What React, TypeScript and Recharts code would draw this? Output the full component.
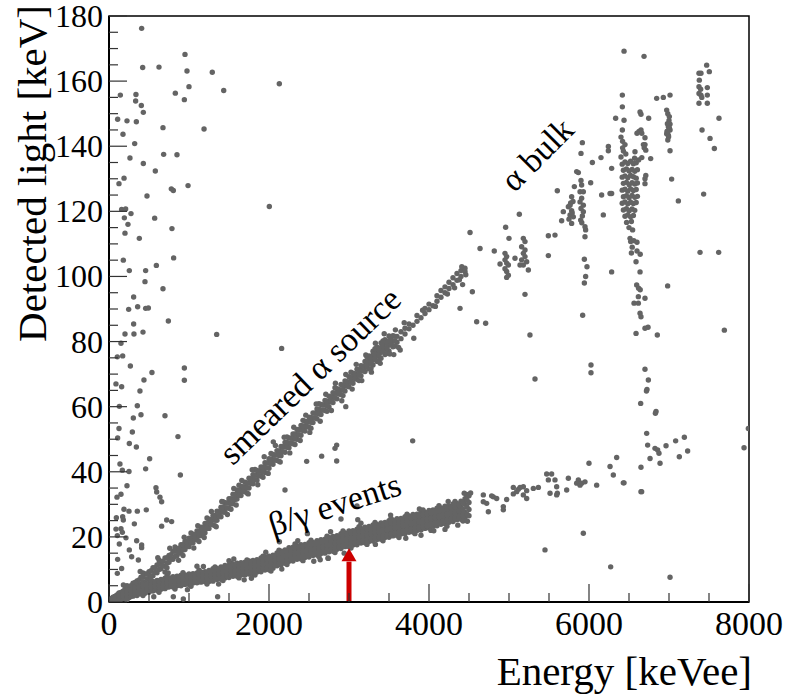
import React from "react";
import { ScatterChart, Scatter, XAxis, YAxis, ReferenceArea, ReferenceLine, ReferenceDot } from "recharts";

const FONT = "Liberation Serif";
const DOT = "#646464";

const W = 787;
const H = 696;
const M_TOP = 16;
const M_RIGHT = 38;
const Y_AXIS_W = 109;
const X_AXIS_H = 94;
const X_DOMAIN = [0, 8000];
const Y_DOMAIN = [0, 180];

const xTicks = [0, 500, 1000, 1500, 2000, 2500, 3000, 3500, 4000, 4500, 5000, 5500, 6000, 6500, 7000, 7500, 8000];
const xLabels = [0, 2000, 4000, 6000, 8000];
const yTicks = [0, 5, 10, 15, 20, 25, 30, 35, 40, 45, 50, 55, 60, 65, 70, 75, 80, 85, 90, 95, 100, 105, 110, 115, 120, 125, 130, 135, 140, 145, 150, 155, 160, 165, 170, 175, 180];
const yLabels = [0, 20, 40, 60, 80, 100, 120, 140, 160, 180];

// beta/gamma band: [energy, light values...]
const bandRows: number[][] = [
  [25, 0.2, 0.6, 1.0], [50, 0.3, 1.0, 1.5], [100, 0.5, 1.4, 2.0], [150, 0.8, 1.6, 2.6], [200, 1.0, 2.2, 3.1],
  [250, 1.4, 2.4, 3.6], [300, 1.8, 3.0, 4.0], [350, 2.0, 3.4, 4.5], [400, 2.5, 3.6, 5.0], [450, 2.7, 4.2, 5.5],
  [500, 3.0, 4.6, 5.8], [550, 3.4, 4.7, 6.3], [600, 3.6, 5.2, 6.6], [650, 3.9, 5.5, 6.9], [700, 4.1, 5.6, 7.3],
  [750, 4.6, 6.1, 7.4], [800, 4.6, 6.3, 7.8], [850, 5.0, 6.3, 7.9], [900, 5.0, 6.7, 8.2], [950, 5.4, 6.8, 8.3],
  [1000, 5.4, 7.1, 8.6], [1050, 5.8, 7.2, 8.7], [1100, 5.9, 7.5, 8.9], [1150, 6.1, 7.6, 9.2], [1200, 6.2, 7.9, 9.3],
  [1250, 6.3, 7.3, 8.7, 9.7], [1300, 6.4, 7.8, 8.9, 10.2], [1350, 6.9, 8.0, 9.3, 10.3], [1400, 7.0, 8.4, 9.5, 10.8],
  [1450, 7.4, 8.5, 9.8, 11.2], [1500, 7.5, 8.9, 10.2, 11.3], [1550, 7.9, 9.0, 10.5, 11.6], [1600, 7.9, 9.3, 10.6, 11.9],
  [1650, 8.3, 9.4, 10.7, 12.1], [1700, 8.3, 9.7, 11.0, 12.2], [1750, 8.6, 9.8, 11.3, 12.6], [1800, 8.7, 10.1, 11.5, 12.8],
  [1850, 9.2, 10.4, 11.9, 13.0], [1900, 9.3, 10.8, 12.1, 13.5], [1950, 9.8, 11.0, 12.3, 13.8], [2000, 9.9, 11.4, 12.7, 14.1],
  [2050, 10.4, 11.8, 13.3, 14.4], [2100, 11.1, 12.2, 13.7, 15.1], [2150, 11.4, 12.9, 14.1, 15.6], [2200, 11.9, 13.2, 14.8, 16.0],
  [2250, 12.5, 13.8, 15.2, 16.7], [2300, 12.6, 14.1, 15.7, 16.8], [2350, 13.1, 14.3, 15.9, 17.3], [2400, 13.2, 14.8, 16.1, 17.6],
  [2450, 13.7, 15.0, 16.6, 17.7], [2500, 13.8, 15.4, 16.8, 18.2], [2550, 14.3, 15.5, 17.2, 18.3], [2600, 14.4, 16.0, 17.3, 18.8],
  [2650, 14.9, 16.1, 17.8, 19.1], [2700, 15.0, 16.5, 18.0, 19.3], [2750, 15.4, 16.7, 18.4, 19.8], [2800, 15.6, 17.2, 18.6, 20.1],
  [2850, 16.2, 17.4, 19.2, 20.4], [2900, 16.4, 18.0, 19.4, 21.0], [2950, 17.0, 18.3, 20.0, 21.2], [3000, 17.0, 18.7, 20.2, 21.8],
  [3050, 17.5, 18.9, 20.6, 21.9], [3100, 17.6, 19.3, 20.8, 22.4], [3150, 18.1, 19.4, 21.2, 22.6], [3200, 18.2, 19.9, 21.3, 23.0],
  [3250, 18.6, 20.0, 21.8, 23.2], [3300, 18.7, 20.5, 22.0, 23.7], [3350, 19.2, 20.7, 22.4, 23.8], [3400, 19.3, 21.1, 22.6, 24.3],
  [3450, 19.8, 21.2, 23.0, 24.4], [3500, 19.9, 21.6, 23.2, 25.0], [3550, 20.3, 21.8, 23.7, 25.1], [3600, 20.4, 22.2, 23.9, 25.6],
  [3650, 20.9, 22.3, 24.3, 25.7], [3700, 21.0, 22.8, 24.4, 26.2], [3750, 21.4, 22.9, 24.9, 26.4], [3800, 21.5, 23.4, 25.0, 26.9],
  [3850, 22.0, 23.5, 25.5, 27.0], [3900, 22.1, 24.0, 25.6, 27.5], [3950, 22.6, 24.1, 26.1, 27.6], [4000, 22.7, 24.6, 26.2, 28.1],
  [4050, 23.3, 24.8, 26.8, 28.3], [4100, 23.4, 25.3, 26.9, 28.8], [4150, 23.9, 25.4, 27.4, 28.9], [4200, 24.0, 25.9, 27.5, 29.4],
  [4250, 24.5, 26.0, 28.0, 29.5], [4300, 24.7, 26.6, 28.2, 30.1], [4350, 25.3, 26.8, 28.8, 30.3], [4400, 25.4, 27.3, 29.1, 31.0],
  [4450, 25.9, 27.6, 30.0, 31.7], [4500, 26.5, 28.4, 30.6, 32.6],
];

const bandRowsB: number[][] = [
  [75, 0.6, 1.1, 1.7], [125, 0.8, 1.5, 2.2, 2.8], [175, 1.2, 1.9, 2.7], [225, 1.5, 2.4, 3.1, 0.7], [275, 1.8, 2.7, 3.6],
  [325, 2.2, 3.1, 4.0, 4.9], [375, 2.5, 3.5, 4.5], [425, 2.9, 3.9, 5.0, 2.0], [475, 3.2, 4.3, 5.4], [525, 3.5, 4.7, 5.8, 6.8],
  [575, 3.8, 5.0, 6.1], [625, 4.0, 5.3, 6.5, 3.0], [675, 4.4, 5.5, 6.8], [725, 4.6, 5.9, 7.0, 8.0], [775, 4.9, 6.1, 7.3],
  [825, 5.1, 6.3, 7.5, 4.0], [875, 5.3, 6.5, 7.7], [925, 5.5, 6.7, 7.9, 9.0], [975, 5.7, 6.9, 8.1], [1025, 5.9, 7.1, 8.3, 4.8],
  [1075, 6.1, 7.3, 8.5], [1125, 6.3, 7.5, 8.7, 9.8], [1175, 6.5, 7.7, 8.9], [1225, 6.7, 7.9, 9.1, 5.5], [1275, 6.9, 8.1, 9.4],
  [1325, 7.2, 8.5, 9.7, 10.8], [1375, 7.5, 8.7, 10.0], [1425, 7.8, 9.0, 10.3, 6.6], [1475, 8.1, 9.4, 10.6],
  [1525, 8.3, 9.6, 10.9, 12.0], [1575, 8.5, 9.8, 11.1], [1625, 8.7, 10.0, 11.3, 7.4], [1675, 8.9, 10.2, 11.5],
  [1725, 9.0, 10.4, 11.8, 12.9], [1775, 9.3, 10.6, 12.0], [1825, 9.6, 11.0, 12.3, 8.3], [1875, 9.9, 11.2, 12.6],
  [1925, 10.1, 11.6, 12.9, 14.1], [1975, 10.4, 11.8, 13.3], [2025, 10.8, 12.3, 13.7, 9.5], [2075, 11.3, 12.7, 14.2],
  [2125, 11.8, 13.3, 14.7, 15.9], [2175, 12.3, 13.7, 15.2], [2225, 12.7, 14.3, 15.8, 11.5], [2275, 13.1, 14.6, 16.2],
  [2325, 13.4, 15.0, 16.5, 17.8], [2375, 13.7, 15.2, 16.8], [2425, 14.0, 15.6, 17.1, 12.7], [2475, 14.3, 15.8, 17.4],
  [2525, 14.6, 16.2, 17.7, 19.0], [2575, 14.9, 16.4, 18.0], [2625, 15.2, 16.8, 18.3, 13.9], [2675, 15.5, 17.0, 18.6],
  [2725, 15.8, 17.4, 18.9, 20.2], [2775, 16.1, 17.7, 19.3], [2825, 16.5, 18.1, 19.7, 15.2], [2875, 16.9, 18.5, 20.1],
  [2925, 17.3, 18.9, 20.5, 21.8], [2975, 17.7, 19.2, 20.8], [3025, 17.9, 19.6, 21.2, 16.6], [3075, 18.2, 19.8, 21.5],
  [3125, 18.5, 20.2, 21.8, 23.1], [3175, 18.8, 20.4, 22.1], [3225, 19.1, 20.8, 22.4, 17.7], [3275, 19.4, 21.0, 22.7],
  [3325, 19.7, 21.4, 23.0, 24.4], [3375, 20.0, 21.6, 23.3], [3425, 20.3, 22.0, 23.6, 18.8], [3475, 20.5, 22.2, 23.9],
  [3525, 20.8, 22.6, 24.3, 25.7], [3575, 21.1, 22.8, 24.6], [3625, 21.4, 23.2, 24.9, 19.8], [3675, 21.7, 23.4, 25.2],
  [3725, 22.0, 23.8, 25.5, 27.0], [3775, 22.2, 24.0, 25.9], [3825, 22.5, 24.4, 26.2, 21.0], [3875, 22.8, 24.6, 26.5],
  [3925, 23.1, 25.0, 26.8, 28.3], [3975, 23.4, 25.2, 27.1], [4025, 23.8, 25.6, 27.4, 22.0], [4075, 24.1, 26.0, 27.8],
  [4125, 24.4, 26.2, 28.1, 29.6], [4175, 24.7, 26.6, 28.4], [4225, 25.0, 26.8, 28.7, 23.3], [4275, 25.4, 27.2, 29.0],
  [4325, 25.8, 27.6, 29.4, 30.9], [4375, 26.1, 28.0, 29.9], [4425, 26.5, 28.5, 30.5, 24.9], [4475, 27.0, 29.2, 31.3, 32.8],
];

const bandExtra: number[][] = [
  [4470, 33.0], [4520, 33.5], [4480, 24.8], [2130, 18.5], [2480, 21.0], [2900, 25.5], [3100, 29.5], [3110, 25.3],
  [2640, 13.0], [2740, 13.4], [1690, 6.8], [3900, 20.5], [4200, 22.3], [1100, 11.0], [1500, 12.7],
  [330, 6.0], [560, 1.6], [740, 8.9], [980, 3.8], [1180, 10.9], [1370, 5.5], [1560, 13.2], [1780, 7.3], [1960, 15.3],
  [2160, 10.1], [2360, 18.8], [2560, 12.5], [2770, 21.6], [2940, 15.0], [3150, 24.2], [3330, 17.7], [3520, 26.7],
  [3710, 19.6], [3880, 28.6], [4060, 21.9], [4240, 30.9], [4360, 23.6], [4440, 33.4],
];

// smeared alpha source line: [energy, light values...]
const smearRows: number[][] = [
  [50, 0.5, 1.3], [100, 1.0, 2.2], [150, 1.6, 2.9], [200, 2.2, 3.9], [250, 2.9, 4.6], [300, 3.6, 5.8], [350, 4.5, 6.5],
  [400, 5.4, 7.6], [450, 6.1, 8.6], [500, 7.2, 9.3], [550, 8.1, 10.5], [600, 9.0, 11.4], [650, 10.2, 12.2], [700, 11.0, 13.5],
  [750, 12.2, 14.3], [800, 13.1, 15.6], [850, 14.2, 16.3], [900, 15.0, 16.4, 17.6], [950, 16.1, 17.2, 18.6],
  [1000, 17.0, 18.5, 19.6], [1050, 18.2, 19.3, 20.8], [1100, 19.1, 20.6, 21.8], [1150, 20.4, 21.5, 23.0],
  [1200, 21.3, 22.9, 24.1], [1250, 22.6, 24.0, 25.4], [1300, 23.7, 25.3, 26.5], [1350, 25.1, 26.4, 27.9],
  [1400, 26.2, 27.8, 29.1], [1450, 27.6, 29.0, 30.5], [1500, 28.8, 30.4, 31.7], [1550, 30.2, 31.6, 33.1],
  [1600, 31.6, 33.0, 34.4], [1650, 32.7, 34.2, 35.5], [1700, 33.9, 35.2, 36.8], [1750, 35.0, 36.6, 38.0],
  [1800, 36.3, 37.8, 39.1], [1850, 37.4, 38.9, 40.4], [1900, 38.7, 40.2, 41.5], [1950, 39.8, 41.3, 42.8],
  [2000, 41.1, 42.7, 44.0], [2050, 42.3, 43.7, 45.3], [2100, 43.5, 45.2, 46.5], [2150, 44.9, 46.2, 47.8],
  [2200, 46.0, 47.7, 49.0], [2250, 47.4, 48.8, 50.4], [2300, 48.6, 50.3, 51.6], [2350, 50.0, 51.4, 53.0],
  [2400, 51.2, 52.9, 54.2], [2450, 52.5, 53.9, 55.5], [2500, 53.7, 55.4, 56.8], [2550, 55.1, 56.5, 58.1],
  [2600, 56.3, 58.0, 59.3], [2650, 57.6, 59.0, 60.7], [2700, 58.8, 60.5, 61.9], [2750, 60.0, 61.5, 63.2],
  [2800, 61.3, 62.9, 64.3], [2850, 62.4, 64.1, 65.5], [2900, 63.7, 65.1, 66.8], [2950, 64.8, 66.5, 67.9],
  [3000, 66.1, 67.6, 69.2], [3050, 67.2, 68.9, 70.3], [3100, 68.4, 69.8, 71.5], [3150, 69.5, 71.2, 72.6],
  [3200, 70.8, 72.3, 73.9], [3250, 71.6, 73.2, 74.5, 75.6], [3300, 72.8, 74.3, 75.9, 77.0], [3350, 73.9, 75.6, 77.1, 78.3],
  [3400, 74.9, 76.7, 78.2, 79.6], [3450, 76.0, 77.8, 79.5, 80.6], [3500, 77.1, 78.9, 80.3, 81.7], [3550, 78.4, 80.1, 81.8],
  [3600, 79.8, 81.6], [3650, 80.9, 83.0], [3700, 82.3, 84.1], [3750, 83.9, 85.4], [3800, 85.0], [3850, 86.2, 88.0],
  [3900, 87.3], [3950, 88.6, 90.2], [4000, 89.8, 91.5], [4050, 91.0], [4100, 92.4, 94.1], [4150, 93.6, 95.7],
  [4200, 95.0, 96.8], [4250, 96.3, 98.2], [4300, 97.5, 99.6], [4350, 98.8, 100.9], [4400, 100.0, 101.8], [4450, 101.5, 102.5],
];

const smearRowsB: number[][] = [
  [75, 0.8, 1.7], [125, 1.4, 2.6, 0.5], [175, 2.0, 3.3], [225, 2.7, 4.1, 5.0], [275, 3.5, 5.0], [325, 4.4, 5.9, 3.0],
  [375, 5.3, 6.8], [425, 6.2, 7.7, 8.9], [475, 7.1, 8.6], [525, 8.0, 9.6, 6.6], [575, 9.1, 10.5], [625, 10.0, 11.6, 12.9],
  [675, 11.1, 12.5], [725, 12.0, 13.6, 10.5], [775, 13.1, 14.5], [825, 14.0, 15.6, 16.9], [875, 15.1, 16.5],
  [925, 16.0, 17.6, 14.3], [975, 17.2, 18.5], [1025, 18.1, 19.7, 21.2], [1075, 19.3, 20.6], [1125, 20.3, 21.8, 18.6],
  [1175, 21.5, 22.9], [1225, 22.6, 24.2, 25.8], [1275, 23.9, 25.3], [1325, 25.1, 26.6, 23.4], [1375, 26.4, 27.8],
  [1425, 27.6, 29.1, 30.8], [1475, 28.9, 30.4], [1525, 30.2, 31.7, 28.5], [1575, 31.5, 33.0], [1625, 32.8, 34.2, 35.9],
  [1675, 34.0, 35.4], [1725, 35.2, 36.6, 33.5], [1775, 36.4, 37.8], [1825, 37.6, 39.0, 40.7], [1875, 38.8, 40.2],
  [1925, 40.0, 41.4, 38.3], [1975, 41.2, 42.7], [2025, 42.5, 43.9, 45.6], [2075, 43.7, 45.2], [2125, 45.0, 46.4, 43.2],
  [2175, 46.2, 47.7], [2225, 47.5, 49.0, 50.7], [2275, 48.8, 50.3], [2325, 50.1, 51.6, 48.4], [2375, 51.4, 52.9],
  [2425, 52.7, 54.1, 55.8], [2475, 53.9, 55.4], [2525, 55.2, 56.7, 53.4], [2575, 56.5, 58.0], [2625, 57.8, 59.2, 60.9],
  [2675, 59.0, 60.5], [2725, 60.3, 61.7, 58.6], [2775, 61.5, 62.9], [2825, 62.7, 64.1, 65.8], [2875, 63.9, 65.3],
  [2925, 65.1, 66.5, 63.4], [2975, 66.3, 67.7], [3025, 67.5, 68.9, 70.6], [3075, 68.6, 70.1], [3125, 69.8, 71.2, 68.0],
  [3175, 71.0, 72.4], [3225, 72.2, 73.6, 75.3], [3275, 73.4, 74.9, 71.7], [3325, 74.7, 76.1, 77.8], [3375, 75.9, 77.3, 74.2],
  [3425, 77.0, 78.5, 80.2], [3475, 78.1, 79.6, 76.4], [3525, 79.2, 80.6], [3575, 80.2, 81.6, 78.6],
];

const smearExtra: number[][] = [
  [3640, 77.4], [3810, 81.0], [3560, 76.0], [4320, 96.5], [4380, 99.0], [4420, 97.5], [4460, 100.5], [4410, 103.0],
  [4388, 90.2], [2960, 60.0], [3690, 85.8], [3920, 89.6], [4080, 90.8], [4230, 94.6],
  [180, 5.2], [260, 1.5], [390, 9.4], [520, 5.8], [610, 13.6], [700, 9.2], [760, 16.5], [870, 12.8], [940, 19.9],
  [1060, 16.6], [1110, 23.4], [1190, 19.8], [1280, 27.8], [1340, 23.1], [1410, 30.9], [1480, 26.9], [1560, 34.9],
  [1590, 29.8], [1660, 37.3], [1740, 33.2], [1790, 40.6], [1860, 36.0], [1940, 44.6], [1990, 39.5], [2080, 48.1],
  [2140, 43.0], [2190, 50.6], [2260, 45.8], [2310, 53.7], [2390, 49.6], [2460, 57.4], [2510, 52.1], [2590, 60.8],
  [2640, 55.5], [2710, 63.8], [2780, 58.8], [2830, 67.2], [2910, 61.8], [2960, 69.9], [3040, 65.4], [3090, 73.0],
  [3160, 68.0], [3210, 75.9], [3280, 70.6], [3330, 79.5], [3390, 73.3], [3440, 82.4], [3510, 76.2], [3580, 83.6],
  [3620, 78.2],
];

// scattered events at low energy
const lowScatter: number[][] = [
  [408, 176.2], [950, 168.2], [421, 164.2], [625, 164.3], [975, 163.1], [1291, 162.7], [2129, 159.2], [1000, 158.3],
  [1434, 157.1], [142, 155.7], [337, 155.9], [829, 156.3], [942, 154.3], [333, 153.9], [404, 152.5], [429, 150.4],
  [108, 148.3], [225, 147.8], [342, 147.5], [675, 145.7], [1188, 145.3], [175, 143.7], [321, 140.8], [683, 137.5],
  [850, 137.4], [262, 136.4], [429, 134.7], [579, 132.4], [188, 130.2], [125, 128.5], [779, 126.9], [804, 126.4],
  [988, 127.9], [475, 124.7], [2004, 121.5], [158, 120.6], [208, 120.7], [275, 119.3], [192, 118.0], [571, 117.9],
  [237, 116.0], [787, 114.7], [200, 113.3], [379, 111.7], [179, 105.0], [808, 105.7], [592, 103.4], [254, 101.8],
  [458, 101.8], [450, 98.4], [675, 96.2], [308, 93.7], [246, 89.9], [358, 90.7], [458, 90.2], [492, 90.3],
  [308, 85.4], [200, 82.3], [312, 82.3], [425, 82.9], [742, 86.3], [1346, 82.2], [150, 79.5], [104, 75.3],
  [171, 75.6], [267, 72.5], [537, 70.5], [942, 71.9], [942, 68.1], [437, 68.2], [87, 67.0], [158, 66.1],
  [387, 64.8], [129, 60.1], [354, 60.3], [304, 56.5], [400, 57.5], [700, 57.2], [125, 53.3], [292, 52.2],
  [108, 50.4], [862, 50.8], [254, 48.7], [342, 47.6], [508, 44.0], [137, 42.4], [167, 40.5], [250, 40.1],
  [458, 40.9], [892, 39.0], [225, 35.7], [587, 35.1], [596, 33.8], [637, 32.2], [658, 30.8], [100, 32.2],
  [150, 33.1], [187, 28.5], [250, 27.9], [354, 27.9], [466, 28.3], [92, 25.9], [171, 26.2], [179, 25.2],
  [317, 24.0], [658, 23.3], [721, 25.2], [783, 24.7], [87, 22.4], [150, 22.5], [104, 20.4], [167, 21.4],
  [212, 19.7], [129, 17.8], [346, 18.8], [408, 17.5], [408, 16.7], [254, 16.0], [108, 13.1], [283, 13.9],
  [367, 12.9], [104, 8.8], [158, 10.3], [804, 1.6], [929, 0.9], [1358, 1.6],
  [2158, 77.9], [2054, 49.2], [2200, 34.4], [2471, 43.2], [2658, 44.8], [2825, 47.2], [2846, 48.2], [2846, 43.3],
  [3796, 49.5], [2738, 13.5],
];

// alpha bulk region
const alphaBulk: number[][] = [
  [4542, 95.3], [4596, 86.1], [4708, 85.6], [5200, 94.5], [5262, 82.0], [5325, 68.5], [4513, 113.5], [4638, 108.6],
  [4816, 107.8], [4958, 115.1], [5000, 111.7], [5129, 119.1], [5075, 105.6], [5492, 112.5], [5492, 106.4], [5575, 112.7],
  [4950, 107.1], [4971, 106.1], [4950, 105.1], [4971, 104.1], [4992, 103.5], [4888, 103.8], [4950, 102.4], [4971, 101.5],
  [4971, 99.7], [4992, 100.4],
  [5179, 111.7], [5200, 110.7], [5158, 109.1], [5200, 108.1], [5179, 107.1], [5200, 106.1], [5158, 105.1], [5221, 104.5],
  [5179, 103.5], [5242, 102.0], [5138, 103.5],
  [5817, 127.6], [5908, 128.1], [5888, 126.0], [5929, 126.0], [5908, 124.0], [5888, 122.9], [5929, 121.9], [5900, 120.9],
  [5929, 119.9], [5917, 118.6], [5896, 117.3], [5783, 124.5], [5771, 122.6], [5742, 121.4], [5783, 120.2], [5763, 118.9],
  [5750, 117.6], [5783, 116.3], [5679, 119.9], [5658, 117.1], [5867, 131.9], [5604, 126.3], [6021, 128.8], [5917, 141.1],
  [5900, 137.8], [6042, 135.0], [6150, 136.5], [6242, 139.9], [6242, 138.6], [5846, 132.2], [5942, 105.3], [5958, 100.0],
  [5942, 98.0], [5950, 112.2], [5958, 114.3], [5950, 115.3], [5975, 103.0], [5921, 88.1], [6025, 72.8], [6025, 70.4],
  [6283, 133.2], [6263, 125.5], [6283, 125.5], [6179, 118.9], [6158, 125.0], [6283, 101.4], [5800, 123.0], [5790, 119.5],
  [5900, 129.5], [5910, 116.5], [5763, 121.9], [5804, 118.3],
  [6438, 169.2], [6688, 167.6], [6417, 155.7], [6417, 152.1], [6333, 148.6], [6438, 148.0], [6638, 150.5], [6650, 149.8],
  [6746, 148.6], [6650, 145.0], [6625, 144.5], [6600, 144.0], [6417, 145.0], [6660, 144.0], [6700, 142.6], [6700, 140.5],
  [6680, 140.5], [6690, 139.5], [6710, 138.8], [6771, 136.2], [6400, 142.8], [6420, 141.5], [6450, 140.5], [6420, 139.5],
  [6430, 138.5], [6460, 137.6], [6400, 136.7], [6575, 138.3], [6660, 136.5], [6620, 135.8], [6570, 136.3], [6700, 130.0],
  [6710, 131.0], [6700, 128.5],
  [6415, 134.5], [6450, 135.2], [6485, 134.7], [6520, 135.4], [6555, 134.6], [6590, 134.9],
  [6430, 132.6], [6468, 133.0], [6502, 132.4], [6538, 132.9], [6572, 132.3], [6605, 132.8],
  [6415, 130.5], [6450, 130.9], [6485, 130.3], [6520, 131.0], [6555, 130.6], [6590, 130.2],
  [6430, 128.6], [6468, 128.9], [6502, 128.2], [6538, 128.8], [6572, 128.4], [6605, 128.7],
  [6415, 126.5], [6450, 126.8], [6485, 126.2], [6520, 126.9], [6555, 126.4], [6590, 126.7],
  [6430, 124.5], [6468, 124.8], [6502, 124.2], [6538, 124.9], [6572, 124.3], [6605, 124.6],
  [6415, 122.5], [6450, 122.9], [6485, 122.3], [6520, 122.8], [6555, 122.4], [6590, 122.7],
  [6430, 120.4], [6468, 120.8], [6502, 120.2], [6538, 120.7], [6572, 120.3],
  [6450, 118.5], [6485, 118.9], [6520, 118.3], [6555, 118.7],
  [6470, 116.6], [6530, 116.9], [6500, 115.0], [6545, 114.3],
  [6513, 111.7], [6521, 110.7], [6560, 111.0], [6600, 110.5], [6540, 109.0], [6530, 107.2], [6600, 107.8], [6640, 106.8],
  [6588, 104.5], [6638, 101.4], [6596, 97.4], [6620, 96.4], [6640, 95.9], [6617, 93.8], [6700, 93.3], [6617, 91.8],
  [6563, 91.8], [6638, 88.7], [6650, 87.6], [6588, 82.5], [6700, 84.1], [6738, 84.4], [6854, 82.0], [6700, 71.5],
  [6742, 68.2], [6725, 65.3], [6718, 64.8], [6646, 61.0], [6838, 58.5], [6830, 58.0],
  [6846, 154.7], [6929, 155.0], [7013, 155.7], [6971, 151.1], [7004, 149.1], [7013, 146.8], [6992, 146.0], [6983, 144.6],
  [7013, 145.0], [6992, 143.4], [6971, 143.8], [7013, 138.6], [7033, 129.9], [7117, 123.2], [6983, 97.1], [6985, 150.0],
  [7000, 147.9], [6980, 146.9], [7005, 145.6], [6975, 144.5], [6995, 142.9], [6985, 141.9],
  [7471, 164.9], [7504, 162.9], [7375, 162.4], [7400, 162.4], [7379, 160.3], [7375, 158.3], [7396, 157.5], [7479, 158.0],
  [7375, 156.2], [7400, 155.7], [7479, 155.7], [7375, 153.2], [7479, 153.2], [7410, 155.0], [7625, 148.6], [7413, 145.0],
  [7513, 142.4], [7567, 139.3], [7433, 125.3], [7388, 107.4], [7621, 107.4], [7692, 83.5],
];

// band continuation above 4500 keVee
const bandTail: number[][] = [
  [4679, 32.9], [4804, 32.3], [4846, 31.8], [4721, 30.3], [4929, 29.3], [4971, 31.5], [5054, 35.2], [5117, 34.6],
  [5179, 35.4], [5304, 34.9], [5367, 35.2], [5221, 31.8], [5492, 37.5], [5471, 39.3], [5450, 16.0], [5533, 39.3],
  [5575, 37.5], [5596, 35.4], [5604, 33.4], [5742, 38.0], [5721, 34.4], [5867, 37.5], [5908, 36.5], [5950, 36.9],
  [6096, 35.9], [6000, 42.6], [6263, 41.6], [6304, 39.0], [6346, 44.4], [6438, 36.6], [6650, 41.4], [6650, 33.9],
  [6721, 51.8], [6733, 48.2], [6763, 44.1], [6825, 47.2], [6858, 46.7], [6875, 45.7], [6888, 42.6], [6963, 48.0],
  [7083, 49.5], [7192, 50.6], [7129, 44.6], [7233, 46.4], [7938, 47.4], [7992, 53.3],
  [4679, 30.8], [4742, 27.7], [4783, 32.6], [4929, 28.3], [5054, 33.2], [5096, 33.9], [5138, 35.2], [5179, 32.9],
  [5221, 34.2], [5513, 33.4], [5596, 32.9], [5846, 36.5], [5888, 35.9], [6429, 36.6], [6658, 33.9],
  [5929, 21.1], [6271, 10.8], [7013, 7.6],
];

const notes = [
  { e: 2512, l: 69.5, text: "smeared α source", angle: -44 },
  { e: 2820, l: 30.0, text: "β/γ events", angle: -18 },
  { e: 5350, l: 137.5, text: "α bulk", angle: -45 },
];

const arrowEnergy = 3000;
const arrowTip = 16.5;
const arrowBase = 12.4;

const toPts = (rows: number[][]) => rows.flatMap(([e, ...ls]) => ls.map((l) => ({ e, l })));

const bandData = toPts(bandRows).concat(toPts(bandRowsB), toPts(bandExtra));
const smearData = toPts(smearRows).concat(toPts(smearRowsB), toPts(smearExtra));
const lowData = toPts(lowScatter);
const bulkData = toPts(alphaBulk);
const tailData = toPts(bandTail);

// plot frame derived from the chart's own margins / axis sizes (used for text overlay only)
const PLOT_L = Y_AXIS_W;
const PLOT_R = W - M_RIGHT;
const PLOT_T = M_TOP;
const PLOT_B = H - X_AXIS_H;
const px = (e: number) => PLOT_L + ((e - X_DOMAIN[0]) / (X_DOMAIN[1] - X_DOMAIN[0])) * (PLOT_R - PLOT_L);
const py = (l: number) => PLOT_B - ((l - Y_DOMAIN[0]) / (Y_DOMAIN[1] - Y_DOMAIN[0])) * (PLOT_B - PLOT_T);

const Dot = (p: any) => <circle cx={p.cx} cy={p.cy} r={2.7} fill={DOT} />;

const XTick = (props: any) => {
  const { x, y, payload } = props;
  const major = xLabels.includes(payload.value);
  return <line x1={x} x2={x} y1={y} y2={y - (major ? 18 : 9)} stroke="#333" strokeWidth={1.2} />;
};

const YTick = (props: any) => {
  const { x, y, payload } = props;
  const major = yLabels.includes(payload.value);
  return <line x1={x} x2={x + (major ? 18 : 9)} y1={y} y2={y} stroke="#333" strokeWidth={1.2} />;
};

const ArrowHead = (p: any) => (
  <polygon points={`${p.cx},${p.cy} ${p.cx - 7.5},${p.cy + 13} ${p.cx + 7.5},${p.cy + 13}`} fill="#cc0000" />
);

export default function App() {
  return (
    <div style={{ position: "relative", width: W, height: H }}>
      <style>{`body{margin:0;background:#fff}`}</style>
      <ScatterChart width={W} height={H} margin={{ top: M_TOP, right: M_RIGHT, bottom: 0, left: 0 }}>
        <XAxis
          type="number"
          dataKey="e"
          domain={X_DOMAIN}
          ticks={xTicks}
          interval={0}
          tick={<XTick />}
          tickLine={false}
          tickSize={0}
          tickMargin={0}
          height={X_AXIS_H}
          axisLine={{ stroke: "#000", strokeWidth: 2 }}
          allowDataOverflow
        />
        <YAxis
          type="number"
          dataKey="l"
          domain={Y_DOMAIN}
          ticks={yTicks}
          interval={0}
          tick={<YTick />}
          tickLine={false}
          tickSize={0}
          tickMargin={0}
          width={Y_AXIS_W}
          axisLine={{ stroke: "#000", strokeWidth: 2 }}
          allowDataOverflow
        />
        <Scatter data={lowData} shape={Dot} isAnimationActive={false} />
        <Scatter data={smearData} shape={Dot} isAnimationActive={false} />
        <Scatter data={bandData} shape={Dot} isAnimationActive={false} />
        <Scatter data={tailData} shape={Dot} isAnimationActive={false} />
        <Scatter data={bulkData} shape={Dot} isAnimationActive={false} />
        <ReferenceArea x1={0} x2={8000} y1={0} y2={180} fill="none" stroke="#000" strokeWidth={1.5} ifOverflow="visible" />
        <ReferenceLine
          segment={[
            { x: arrowEnergy, y: 0 },
            { x: arrowEnergy, y: arrowBase },
          ]}
          stroke="#cc0000"
          strokeWidth={5}
        />
        <ReferenceDot x={arrowEnergy} y={arrowTip} shape={ArrowHead} />
      </ScatterChart>
      <svg width={W} height={H} style={{ position: "absolute", left: 0, top: 0, pointerEvents: "none" }}>
        {xLabels.map((v) => (
          <text key={`x${v}`} x={px(v)} y={PLOT_B + 33} textAnchor="middle" fontSize={34} fontFamily={FONT} fill="#000">
            {v}
          </text>
        ))}
        {yLabels.map((v) => (
          <text key={`y${v}`} x={PLOT_L - 6} y={py(v) + 11} textAnchor="end" fontSize={32} fontFamily={FONT} fill="#000">
            {v}
          </text>
        ))}
        {notes.map((n) => (
          <text
            key={n.text}
            x={px(n.e)}
            y={py(n.l)}
            transform={`rotate(${n.angle} ${px(n.e)} ${py(n.l)})`}
            textAnchor="middle"
            dominantBaseline="central"
            fontSize={34}
            fontFamily={FONT}
            fill="#000"
          >
            {n.text}
          </text>
        ))}
        <text x={752} y={685} textAnchor="end" fontSize={41} fontFamily={FONT} fill="#000">
          Energy [keVee]
        </text>
        <text transform="translate(46,5) rotate(-90)" textAnchor="end" fontSize={41} fontFamily={FONT} fill="#000">
          Detected light [keV]
        </text>
      </svg>
    </div>
  );
}
